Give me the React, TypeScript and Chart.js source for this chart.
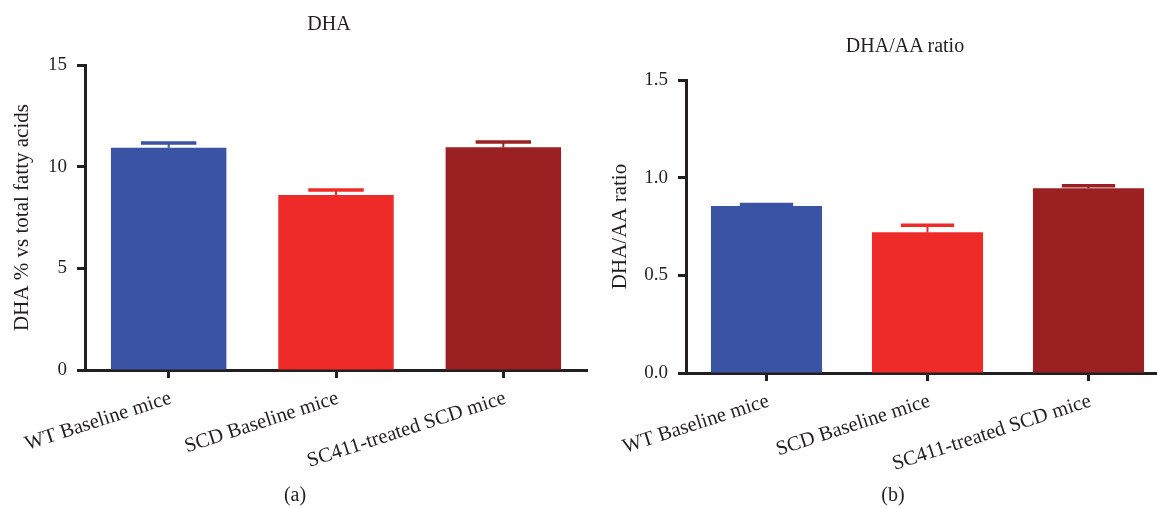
import React, { useEffect, useRef } from "react";
import { Chart, registerables } from "chart.js";

Chart.register(...registerables);

// ---- data ----
const categories = ["WT Baseline mice", "SCD Baseline mice", "SC411-treated SCD mice"];
const barColors = ["#3a53a4", "#ee2b29", "#9a2022"];

const dhaValues = [10.93, 8.61, 10.95];
const dhaErrors = [0.23, 0.24, 0.26];
const dhaTicks = [0, 5, 10, 15];

const ratioValues = [0.855, 0.72, 0.946];
const ratioErrors = [0.007, 0.036, 0.013];
const ratioTicks = [0.0, 0.5, 1.0, 1.5];

const INK = "#231f20";
const FONT = "'Liberation Serif', 'Times New Roman', serif";

const errorBarPlugin = {
  id: "errorBars",
  afterDatasetsDraw(chart: any, _args: any, opts: any) {
    const errs: number[] = opts.errors || [];
    const ctx = chart.ctx;
    const meta = chart.getDatasetMeta(0);
    const ds = chart.data.datasets[0];
    const yScale = chart.scales.y;
    meta.data.forEach((bar: any, i: number) => {
      const v = ds.data[i] as number;
      const { x, y, width } = bar.getProps(["x", "y", "width"], true);
      const top = yScale.getPixelForValue(v + errs[i]);
      const col = Array.isArray(ds.backgroundColor) ? ds.backgroundColor[i] : ds.backgroundColor;
      ctx.save();
      ctx.strokeStyle = col;
      ctx.lineWidth = 2;
      ctx.beginPath();
      ctx.moveTo(x, y);
      ctx.lineTo(x, top);
      ctx.stroke();
      ctx.lineWidth = 3.5;
      ctx.beginPath();
      ctx.moveTo(x - width * 0.24, top);
      ctx.lineTo(x + width * 0.24, top);
      ctx.stroke();
      ctx.restore();
    });
  },
};

type PanelProps = {
  values: number[];
  errors: number[];
  ticks: number[];
  yTitle: string;
  decimals: number;
  canvasW: number;
  padRight: number;
  padTop: number;
  yWidth: number;
  xHeight: number;
  titlePad: number;
};

function Panel(p: PanelProps) {
  const ref = useRef<HTMLCanvasElement | null>(null);
  useEffect(() => {
    if (!ref.current) return;
    const chart = new Chart(ref.current, {
      type: "bar",
      data: {
        labels: categories,
        datasets: [
          {
            data: p.values,
            backgroundColor: barColors,
            borderWidth: 0,
            barPercentage: 0.69,
            categoryPercentage: 1,
          },
        ],
      },
      options: {
        responsive: false,
        animation: false,
        layout: { padding: { left: 0, right: p.padRight, top: p.padTop, bottom: 0 } },
        plugins: {
          legend: { display: false },
          tooltip: { enabled: false },
          title: { display: false },
          errorBars: { errors: p.errors },
        } as any,
        scales: {
          x: {
            grid: {
              display: true,
              drawOnChartArea: false,
              drawTicks: true,
              offset: false,
              tickLength: 8,
              tickWidth: 3,
              tickColor: INK,
            },
            border: { display: true, width: 3, color: INK },
            ticks: {
              autoSkip: false,
              maxRotation: 18,
              minRotation: 18,
              color: INK,
              padding: 8,
              labelOffset: 2,
              font: { family: FONT, size: 20.5 },
            },
            afterFit: (s: any) => {
              s.height = p.xHeight;
            },
          },
          y: {
            min: p.ticks[0],
            max: p.ticks[p.ticks.length - 1],
            afterBuildTicks: (s: any) => {
              s.ticks = p.ticks.map((v) => ({ value: v }));
            },
            grid: {
              display: true,
              drawOnChartArea: false,
              drawTicks: true,
              tickLength: 8,
              tickWidth: 3,
              tickColor: INK,
            },
            border: { display: true, width: 3, color: INK },
            ticks: {
              color: INK,
              padding: 10,
              font: { family: FONT, size: 19 },
              callback: (v: any) => Number(v).toFixed(p.decimals),
            },
            title: {
              display: true,
              text: p.yTitle,
              color: INK,
              font: { family: FONT, size: 21 },
              padding: { top: p.titlePad, bottom: 0 },
            },
            afterFit: (s: any) => {
              s.width = p.yWidth;
            },
          },
        },
      },
      plugins: [errorBarPlugin],
    });
    return () => chart.destroy();
  }, []);
  return <canvas ref={ref} width={p.canvasW} height={508} />;
}

const textStyle: React.CSSProperties = {
  position: "absolute",
  fontFamily: FONT,
  fontSize: 20,
  lineHeight: "20px",
  color: INK,
  transform: "translateX(-50%)",
  whiteSpace: "nowrap",
};

export default function App() {
  useEffect(() => {
    document.body.style.margin = "0";
  }, []);
  return (
    <div style={{ position: "relative", width: 1157, height: 508, background: "#fff", overflow: "hidden" }}>
      <div style={{ position: "absolute", left: 0, top: 0 }}>
        <Panel
          values={dhaValues}
          errors={dhaErrors}
          ticks={dhaTicks}
          yTitle="DHA % vs total fatty acids"
          decimals={0}
          canvasW={595}
          padRight={8}
          padTop={65}
          yWidth={85}
          xHeight={138}
          titlePad={10}
        />
      </div>
      <div style={{ position: "absolute", left: 595, top: 0 }}>
        <Panel
          values={ratioValues}
          errors={ratioErrors}
          ticks={ratioTicks}
          yTitle="DHA/AA ratio"
          decimals={1}
          canvasW={600}
          padRight={26}
          padTop={80}
          yWidth={91}
          xHeight={135}
          titlePad={13}
        />
      </div>
      <div style={{ ...textStyle, left: 329, top: 13 }}>DHA</div>
      <div style={{ ...textStyle, left: 905, top: 35 }}>DHA/AA ratio</div>
      <div style={{ ...textStyle, left: 295, top: 484 }}>(a)</div>
      <div style={{ ...textStyle, left: 893, top: 484 }}>(b)</div>
    </div>
  );
}
